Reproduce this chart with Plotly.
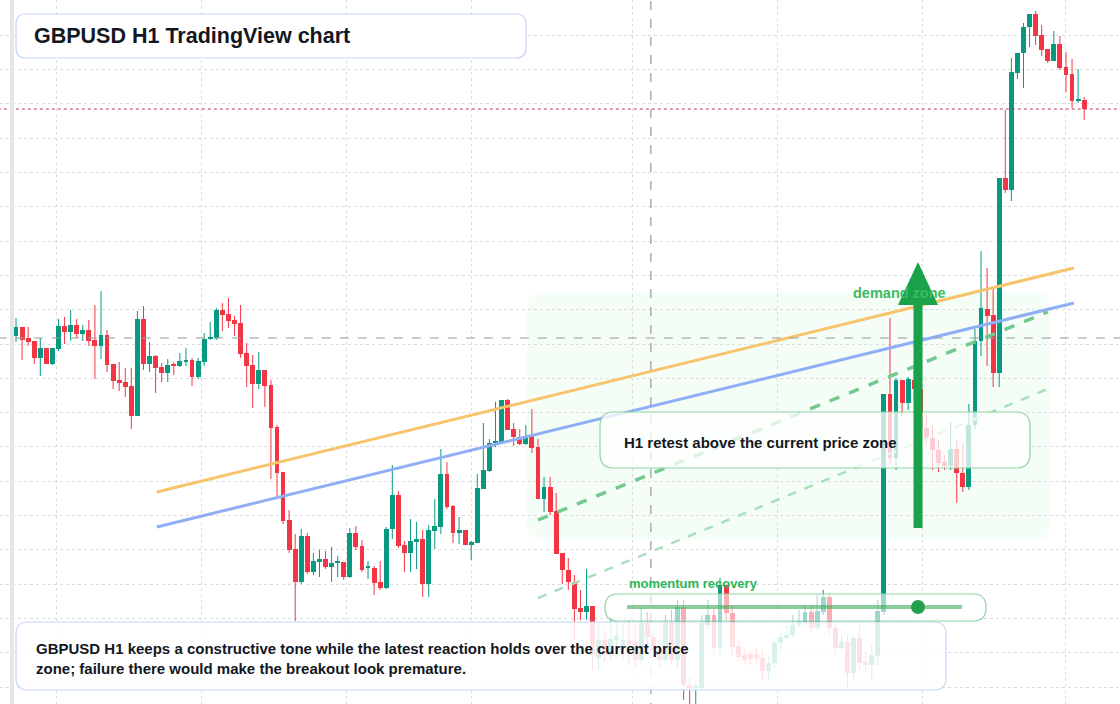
import plotly.graph_objects as go

# OHLC in pips (price * 10000)
open_p = [12664,12673,12662,12659,12642,12652,12636,12651,12674,12668,12675,12666,12670,12660,12654,12665,12636,12620,12618,12614,
12584,12681,12636,12644,12633,12627,12635,12634,12638,12640,12623,12638,12661,12662,12690,12686,12680,12677,12647,12635,
12616,12630,12615,12573,12528,12480,12451,12418,12464,12428,12438,12441,12433,12437,12438,12423,12467,12454,12432,12432,
12418,12412,12471,12505,12455,12447,12458,12461,12416,12469,12473,12526,12494,12467,12470,12455,12457,12511,12529,12557,
12557,12600,12571,12563,12556,12564,12553,12501,12513,12489,12447,12430,12418,12392,12388,12394,12342,12360,12345,12360,
12354,12360,12358,12340,12377,12363,12350,12340,12378,12340,12393,12315,12312,12312,12375,12385,12352,12415,12387,12354,
12345,12346,12346,12342,12329,12337,12357,12362,12365,12375,12377,12388,12372,12388,12403,12372,12352,12358,12327,12362,
12338,12335,12344,12388,12606,12542,12620,12597,12620,12611,12572,12562,12550,12538,12534,12551,12527,12513,12575,12659,
12691,12685,12627,12822,12810,12927,12947,12973,12986,12965,12951,12939,12956,12933,12926,12899,12900]
close_p = [12673,12660,12658,12642,12652,12636,12652,12674,12668,12675,12666,12670,12659,12654,12665,12635,12619,12617,12613,12584,
12681,12636,12644,12632,12627,12635,12634,12639,12640,12623,12639,12661,12662,12690,12685,12679,12676,12646,12634,12616,
12630,12614,12572,12527,12479,12450,12418,12464,12428,12439,12441,12433,12437,12438,12423,12467,12453,12430,12433,12417,
12412,12471,12505,12454,12447,12459,12461,12416,12470,12474,12526,12493,12467,12470,12455,12458,12512,12530,12557,12558,
12600,12570,12563,12556,12564,12552,12501,12513,12488,12446,12430,12418,12391,12388,12394,12345,12360,12345,12361,12364,
12360,12355,12340,12377,12363,12350,12340,12378,12340,12393,12315,12312,12313,12377,12385,12352,12415,12387,12353,12343,
12340,12341,12342,12329,12337,12357,12363,12365,12375,12379,12388,12372,12389,12403,12372,12352,12358,12327,12362,12337,
12335,12345,12389,12606,12542,12620,12597,12621,12611,12572,12562,12550,12537,12534,12551,12527,12513,12575,12659,12692,
12684,12627,12822,12810,12928,12947,12973,12986,12964,12950,12939,12956,12932,12925,12899,12900,12891]
high_p = [12682,12673,12673,12659,12662,12652,12652,12681,12683,12690,12681,12675,12680,12695,12709,12670,12636,12638,12632,12632,
12689,12694,12658,12645,12637,12641,12638,12647,12652,12642,12642,12667,12678,12692,12697,12702,12684,12695,12657,12645,
12648,12630,12620,12575,12528,12490,12466,12471,12467,12447,12450,12449,12453,12444,12438,12472,12474,12460,12439,12434,
12439,12473,12535,12509,12459,12481,12478,12470,12475,12501,12551,12538,12495,12483,12470,12459,12526,12577,12561,12598,
12600,12601,12577,12571,12575,12591,12561,12523,12523,12507,12447,12442,12425,12410,12431,12394,12377,12370,12382,12378,
12375,12380,12375,12392,12388,12370,12360,12385,12390,12400,12400,12322,12320,12385,12400,12392,12422,12415,12395,12360,
12352,12350,12352,12350,12345,12360,12370,12375,12385,12390,12395,12395,12405,12410,12405,12375,12365,12365,12365,12375,
12348,12355,12400,12606,12682,12622,12620,12623,12630,12611,12585,12575,12560,12545,12578,12560,12557,12596,12671,12749,
12732,12711,12822,12890,12942,12947,12977,12986,12989,12975,12951,12969,12964,12948,12941,12931,12903]
low_p = [12658,12640,12654,12636,12624,12636,12635,12649,12656,12659,12662,12659,12654,12621,12641,12628,12611,12609,12603,12571,
12584,12630,12628,12607,12618,12618,12625,12633,12634,12614,12621,12634,12660,12660,12669,12672,12664,12642,12613,12592,
12611,12593,12521,12503,12476,12447,12379,12416,12426,12425,12423,12431,12418,12423,12420,12422,12450,12428,12421,12405,
12410,12411,12461,12452,12428,12428,12431,12403,12403,12451,12466,12491,12457,12456,12455,12440,12457,12511,12528,12553,
12557,12570,12554,12555,12555,12547,12501,12488,12485,12446,12416,12410,12360,12380,12380,12330,12330,12338,12340,12342,
12340,12335,12332,12335,12350,12342,12332,12338,12335,12332,12300,12290,12290,12310,12372,12345,12345,12380,12345,12338,
12335,12336,12335,12320,12320,12332,12350,12360,12362,12372,12375,12368,12370,12385,12365,12345,12350,12312,12320,12330,
12328,12320,12335,12385,12535,12530,12583,12590,12600,12568,12555,12530,12528,12530,12530,12497,12508,12510,12570,12644,
12634,12613,12613,12807,12799,12921,12912,12953,12955,12944,12937,12939,12930,12908,12892,12897,12880]

# trend lines: (bar index, price in pips)
orange_x = [23.2, 174.3]; orange_y = [12508, 12732]
blue_x = [23.2, 174.3]; blue_y = [12473, 12697]
dash_x = [86.0, 170.0]; dash_y = [12480, 12688]
light_x = [86.0, 170.0]; light_y = [12402, 12611]
ref_level = 12662
cross_bar = 104.6
vgrid = [6.75, 30.6, 54.4, 75.0, 101.6, 125.4, 149.3, 173.0]

UP, DN = "#089981", "#f23645"
P = lambda v: v / 10000
idx = list(range(len(open_p)))
W, H = 1120, 704
px = lambda x: x / W
py = lambda y: 1 - y / H

fig = go.Figure()
for col, cond in ((UP, lambda i: close_p[i] >= open_p[i]), (DN, lambda i: close_p[i] < open_p[i])):
    wx, wy = [], []
    for i in idx:
        if cond(i):
            wx += [i, i, None]; wy += [P(low_p[i]), P(high_p[i]), None]
    fig.add_trace(go.Scatter(x=wx, y=wy, mode="lines", line=dict(color=col, width=1),
                             showlegend=False, hoverinfo="skip"))
body_base = [P(min(o, c)) for o, c in zip(open_p, close_p)]
body_h = [max(P(abs(c - o)), 0.00012) for o, c in zip(open_p, close_p)]
body_col = [UP if c >= o else DN for o, c in zip(open_p, close_p)]
fig.add_trace(go.Bar(x=idx, y=body_h, base=body_base, width=0.8, marker=dict(color=body_col, line=dict(width=0)),
                     showlegend=False, hoverinfo="skip"))

def line(xs, ys, color, width, dash=None, op=1):
    fig.add_trace(go.Scatter(x=xs, y=[P(v) for v in ys], mode="lines", opacity=op,
                             line=dict(color=color, width=width, dash=dash),
                             showlegend=False, hoverinfo="skip"))

line(orange_x, orange_y, "#f7c46c", 3)
line(blue_x, blue_y, "#8eaef5", 3)
line(dash_x, dash_y, "#74c990", 3.5, "dash")
line(light_x, light_y, "#a9e0bc", 2.5, "dash")
line([-3, 185], [ref_level, ref_level], "#9a9a9a", 1.2, "dash")
line([-3, 185], [close_p[-1], close_p[-1]], "#c0394a", 1.2, "dot")
fig.add_trace(go.Scatter(x=[cross_bar, cross_bar], y=[1.2, 1.31], mode="lines",
                         line=dict(color="#9a9a9a", width=1.2, dash="dash"),
                         showlegend=False, hoverinfo="skip"))

shapes = []
def rrect(x0, y0, x1, y1, r, fill, border, bw=1.2, layer="above"):
    X = lambda v: f"{px(v):.5f}"
    Y = lambda v: f"{py(v):.5f}"
    path = (f"M {X(x0+r)},{Y(y0)} L {X(x1-r)},{Y(y0)} Q {X(x1)},{Y(y0)} {X(x1)},{Y(y0+r)} "
            f"L {X(x1)},{Y(y1-r)} Q {X(x1)},{Y(y1)} {X(x1-r)},{Y(y1)} "
            f"L {X(x0+r)},{Y(y1)} Q {X(x0)},{Y(y1)} {X(x0)},{Y(y1-r)} "
            f"L {X(x0)},{Y(y0+r)} Q {X(x0)},{Y(y0)} {X(x0+r)},{Y(y0)} Z")
    shapes.append(dict(type="path", xref="paper", yref="paper", path=path,
                       fillcolor=fill, line=dict(color=border, width=bw), layer=layer))

shapes.append(dict(type="rect", xref="paper", yref="paper", x0=px(10), x1=px(14), y0=0, y1=1,
                   fillcolor="#e6e6e6", line=dict(width=0), layer="above"))
rrect(527, 292, 1050, 540, 16, "rgba(225,248,232,0.35)", "rgba(0,0,0,0)", 0, "below")
rrect(16, 14, 526, 58, 10, "white", "#c7d7f2")
rrect(16, 622, 946, 690, 12, "rgba(255,255,255,0.85)", "#c7d7f2")
rrect(600, 412, 1030, 468, 14, "rgba(255,255,255,0.75)", "#8fd3a4")
rrect(605, 594, 986, 621, 13, "rgba(255,255,255,0.6)", "#8fd3a4")
shapes.append(dict(type="line", xref="paper", yref="paper", x0=px(627), x1=px(962), y0=py(607), y1=py(607),
                   line=dict(color="rgba(60,170,90,0.6)", width=4), layer="above"))
shapes.append(dict(type="circle", xref="paper", yref="paper", x0=px(911), x1=px(925), y0=py(614), y1=py(600),
                   fillcolor="#22a04d", line=dict(width=0), layer="above"))
shapes.append(dict(type="line", xref="paper", yref="paper", x0=px(918), x1=px(918), y0=py(528), y1=py(300),
                   line=dict(color="#19a24a", width=9), layer="above"))
shapes.append(dict(type="path", xref="paper", yref="paper",
                   path=f"M {px(898)},{py(305)} L {px(938)},{py(305)} L {px(918)},{py(262)} Z",
                   fillcolor="#19a24a", line=dict(width=0), layer="above"))

ann = [
    dict(x=px(32), y=py(36), text="<b>GBPUSD H1 TradingView chart</b>", font=dict(size=21.5, color="#131722")),
    dict(x=px(34), y=py(648), text="<b>GBPUSD H1 keeps a constructive tone while the latest reaction holds over the current price</b>", font=dict(size=15, color="#131722")),
    dict(x=px(34), y=py(668), text="<b>zone; failure there would make the breakout look premature.</b>", font=dict(size=15, color="#131722")),
    dict(x=px(622), y=py(442), text="<b>H1 retest above the current price zone</b>", font=dict(size=15, color="#131722")),
    dict(x=px(627), y=py(583), text="<b>momentum recovery</b>", font=dict(size=13, color="#2bb55a")),
    dict(x=px(851), y=py(293), text="<b>demand zone</b>", font=dict(size=14.5, color="#3dbb62")),
]
for a in ann:
    a.update(xref="paper", yref="paper", xanchor="left", yanchor="middle", showarrow=False)

fig.update_layout(
    width=W, height=H, margin=dict(l=0, r=0, t=0, b=0),
    paper_bgcolor="white", plot_bgcolor="white", bargap=0,
    font=dict(family="Liberation Sans, Arial, sans-serif"),
    shapes=shapes, annotations=ann,
    xaxis=dict(range=[-2.64, 181.9], tickvals=vgrid, showticklabels=False, showgrid=True,
               gridcolor="#dcdcdc", griddash="dot", zeroline=False, showline=False, fixedrange=True),
    yaxis=dict(range=[1.2296, 1.3], tick0=1.2999, dtick=0.00343, showticklabels=False, showgrid=True,
               gridcolor="#dcdcdc", griddash="dot", zeroline=False, showline=False, fixedrange=True),
)
fig.write_html("out.html", config={"displayModeBar": False},
               post_script="document.body.style.margin='0';document.body.style.overflow='hidden';")
